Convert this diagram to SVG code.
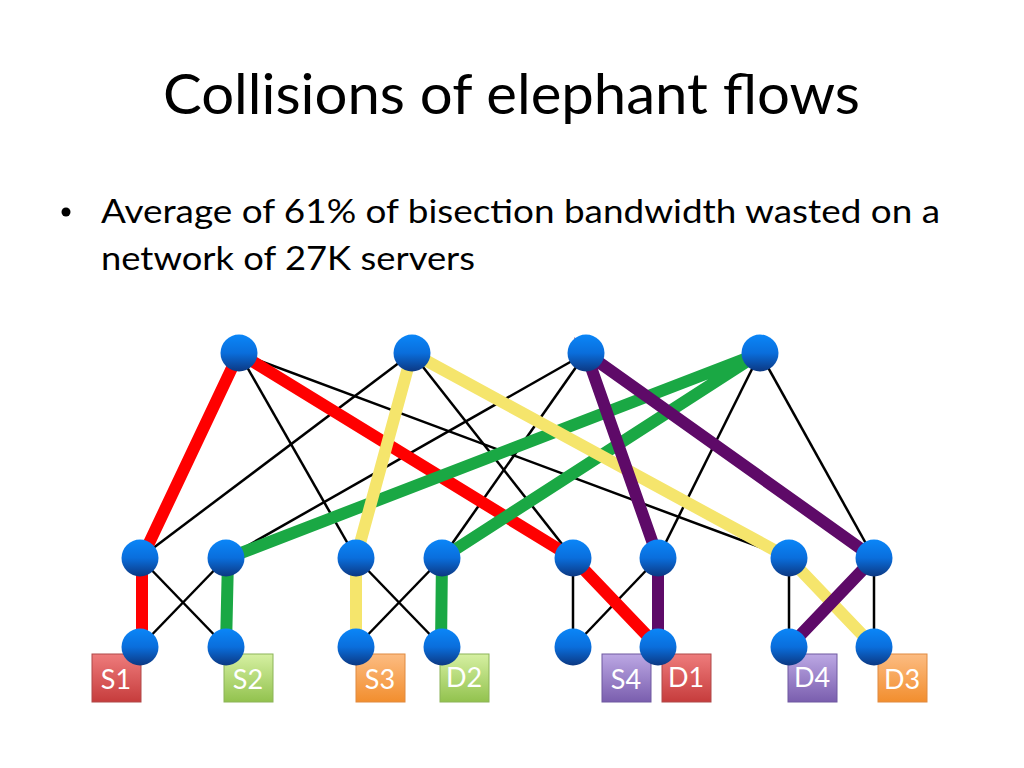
<svg xmlns="http://www.w3.org/2000/svg" width="1024" height="768" viewBox="0 0 1024 768">
<defs>
<linearGradient id="nodeG" x1="0" y1="0" x2="0" y2="1">
<stop offset="0" stop-color="#0a86f8"/>
<stop offset="0.5" stop-color="#0a6edc"/>
<stop offset="1" stop-color="#0c3882"/>
</linearGradient>
<linearGradient id="redG" x1="0" y1="0" x2="0" y2="1"><stop offset="0" stop-color="#ee7c7c"/><stop offset="1" stop-color="#c63c3c"/></linearGradient>
<linearGradient id="greenG" x1="0" y1="0" x2="0" y2="1"><stop offset="0" stop-color="#d6f0a2"/><stop offset="1" stop-color="#92c24e"/></linearGradient>
<linearGradient id="orangeG" x1="0" y1="0" x2="0" y2="1"><stop offset="0" stop-color="#fcbc82"/><stop offset="1" stop-color="#f28e2e"/></linearGradient>
<linearGradient id="purpleG" x1="0" y1="0" x2="0" y2="1"><stop offset="0" stop-color="#bca8e4"/><stop offset="1" stop-color="#7a5eae"/></linearGradient>
</defs>
<style>
.title{font-family:Lato,"Open Sans","Liberation Sans",sans-serif;font-size:56px;fill:#000}
.body{font-family:Lato,"Open Sans","Liberation Sans",sans-serif;font-size:33px;fill:#000}
.thin{stroke:#000;stroke-width:2.5;fill:none}
.red{stroke:#ff0000;stroke-width:12;fill:none}
.green{stroke:#1aa844;stroke-width:12;fill:none}
.yellow{stroke:#f5e56c;stroke-width:12;fill:none}
.purple{stroke:#5e0a68;stroke-width:12;fill:none}
.node{fill:url(#nodeG)}
.lbl{font-family:Lato,"Open Sans","Liberation Sans",sans-serif;font-size:27px;fill:#fff;text-anchor:middle}
.bred{fill:url(#redG);stroke:#b04848;stroke-width:1}
.bgreen{fill:url(#greenG);stroke:#8cb458;stroke-width:1}
.borange{fill:url(#orangeG);stroke:#e08a40;stroke-width:1}
.bpurple{fill:url(#purpleG);stroke:#6e58a0;stroke-width:1}
</style>
<rect width="1024" height="768" fill="#fff"/>
<text class="title" x="163" y="114" textLength="697" lengthAdjust="spacingAndGlyphs">Collisions of elephant flows</text>
<circle cx="66" cy="212" r="4.5" fill="#000"/>
<text class="body" x="101" y="223" textLength="839" lengthAdjust="spacingAndGlyphs">Average of 61% of bisection bandwidth wasted on a</text>
<text class="body" x="101" y="270" textLength="374" lengthAdjust="spacingAndGlyphs">network of 27K servers</text>

<g id="connectors">
<line class="thin" x1="239" y1="353" x2="356" y2="558"/>
<line class="thin" x1="239" y1="353" x2="789" y2="558"/>
<line class="thin" x1="412" y1="353" x2="140" y2="558"/>
<line class="thin" x1="412" y1="353" x2="573" y2="558"/>
<line class="thin" x1="586" y1="353" x2="226" y2="558"/>
<line class="thin" x1="586" y1="353" x2="442" y2="558"/>
<line class="thin" x1="760" y1="353" x2="658" y2="558"/>
<line class="thin" x1="760" y1="353" x2="874" y2="558"/>
<line class="thin" x1="140" y1="558" x2="226" y2="647"/>
<line class="thin" x1="226" y1="558" x2="140" y2="647"/>
<line class="thin" x1="356" y1="558" x2="442" y2="647"/>
<line class="thin" x1="442" y1="558" x2="356" y2="647"/>
<line class="thin" x1="573" y1="558" x2="573" y2="647"/>
<line class="thin" x1="658" y1="558" x2="573" y2="647"/>
<line class="thin" x1="789" y1="558" x2="789" y2="647"/>
<line class="thin" x1="874" y1="558" x2="874" y2="647"/>
<polyline class="red" points="142,647 142,558 239,353 573,558 658,647"/>
<polyline class="green" points="226,647 228,558 760,353 442,558 441,647"/>
<polyline class="yellow" points="356,647 356,558 412,353 789,558 874,647"/>
<polyline class="purple" points="658,647 658,558 586,353 874,558 789,647"/>
</g>

<g id="labels">
<g id="S1"><rect class="bred" x="92" y="654" width="49" height="48"/><text class="lbl" x="116" y="689">S1</text></g>
<g id="S2"><rect class="bgreen" x="224" y="654" width="49" height="48"/><text class="lbl" x="248" y="689">S2</text></g>
<g id="S3"><rect class="borange" x="356" y="654" width="49" height="48"/><text class="lbl" x="380" y="689">S3</text></g>
<g id="D2"><rect class="bgreen" x="440" y="654" width="49" height="48"/><text class="lbl" x="464" y="687">D2</text></g>
<g id="S4"><rect class="bpurple" x="602" y="654" width="49" height="48"/><text class="lbl" x="626" y="689">S4</text></g>
<g id="D1"><rect class="bred" x="662" y="654" width="49" height="48"/><text class="lbl" x="686" y="687">D1</text></g>
<g id="D4"><rect class="bpurple" x="788" y="654" width="49" height="48"/><text class="lbl" x="812" y="687">D4</text></g>
<g id="D3"><rect class="borange" x="878" y="654" width="49" height="48"/><text class="lbl" x="902" y="689">D3</text></g>
</g>

<g id="core">
<circle id="T1" class="node" cx="239" cy="353" r="18.5"/>
<circle id="T2" class="node" cx="412" cy="353" r="18.5"/>
<circle id="T3" class="node" cx="586" cy="353" r="18.5"/>
<circle id="T4" class="node" cx="760" cy="353" r="18.5"/>
</g>
<g id="aggregation">
<circle id="A1" class="node" cx="140" cy="558" r="18.5"/>
<circle id="A2" class="node" cx="226" cy="558" r="18.5"/>
<circle id="A3" class="node" cx="356" cy="558" r="18.5"/>
<circle id="A4" class="node" cx="442" cy="558" r="18.5"/>
<circle id="A5" class="node" cx="573" cy="558" r="18.5"/>
<circle id="A6" class="node" cx="658" cy="558" r="18.5"/>
<circle id="A7" class="node" cx="789" cy="558" r="18.5"/>
<circle id="A8" class="node" cx="874" cy="558" r="18.5"/>
</g>
<g id="edge">
<circle id="E1" class="node" cx="140" cy="647" r="18.5"/>
<circle id="E2" class="node" cx="226" cy="647" r="18.5"/>
<circle id="E3" class="node" cx="356" cy="647" r="18.5"/>
<circle id="E4" class="node" cx="442" cy="647" r="18.5"/>
<circle id="E5" class="node" cx="573" cy="647" r="18.5"/>
<circle id="E6" class="node" cx="658" cy="647" r="18.5"/>
<circle id="E7" class="node" cx="789" cy="647" r="18.5"/>
<circle id="E8" class="node" cx="874" cy="647" r="18.5"/>
</g>
</svg>
